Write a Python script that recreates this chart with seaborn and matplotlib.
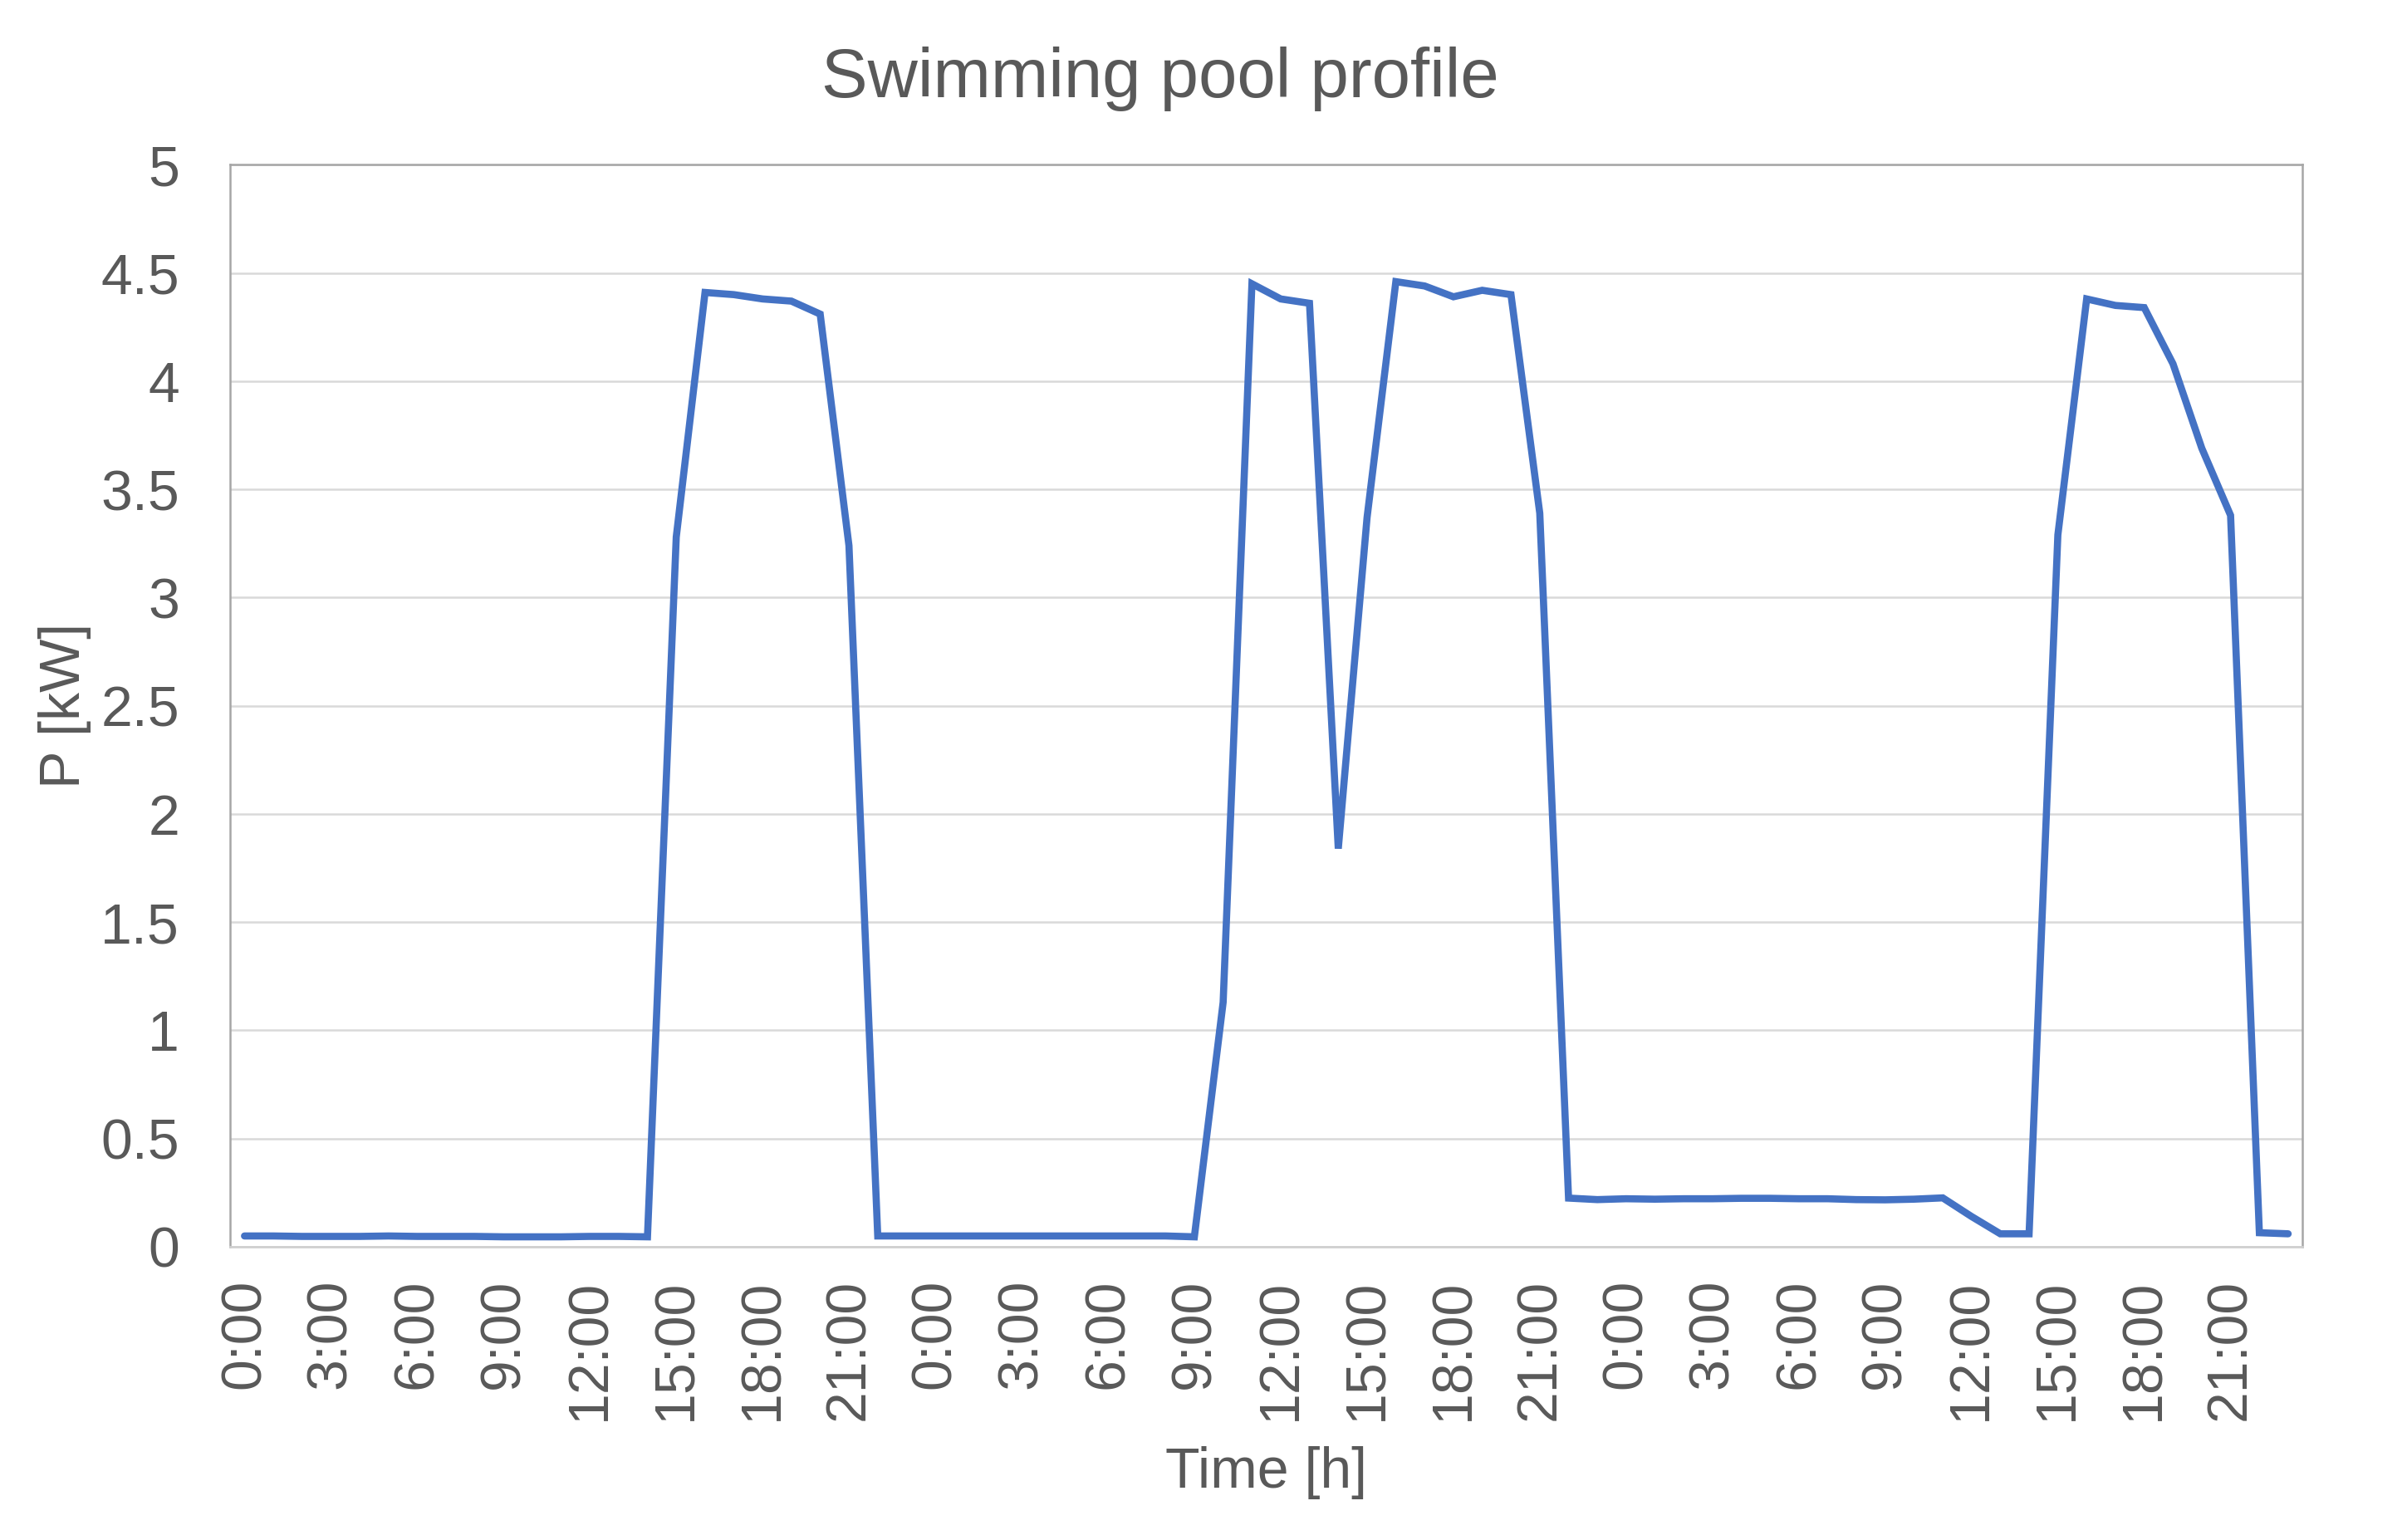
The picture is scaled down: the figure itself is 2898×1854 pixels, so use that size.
import matplotlib
matplotlib.use("Agg")
import matplotlib.pyplot as plt
import seaborn as sns
import pandas as pd

# ---- data ----
hours_of_day = [f"{h}:00" for h in range(24)]
time_labels = hours_of_day * 3

day1 = [0.05, 0.05, 0.048, 0.048, 0.048, 0.05, 0.048, 0.048, 0.048, 0.046, 0.046, 0.046, 0.048, 0.048,
        0.046, 3.28, 4.41, 4.40, 4.38, 4.37, 4.31, 3.24, 0.05, 0.05]
day2 = [0.05, 0.05, 0.05, 0.05, 0.05, 0.05, 0.05, 0.05, 0.05, 0.046,
        1.13, 4.45, 4.38, 4.36, 1.84, 3.37, 4.46, 4.44, 4.39, 4.42, 4.40, 3.39, 0.225, 0.218]
day3 = [0.222, 0.22, 0.222, 0.222, 0.224, 0.224, 0.222, 0.222, 0.218, 0.217, 0.22, 0.226,
        0.14, 0.06, 0.06, 3.29, 4.38, 4.35, 4.34, 4.08, 3.69, 3.38, 0.065, 0.06]
power_kw = day1 + day2 + day3

title = "Swimming pool profile"
x_label = "Time [h]"
y_label = "P [kW]"
y_ticks = [0, 0.5, 1, 1.5, 2, 2.5, 3, 3.5, 4, 4.5, 5]
y_tick_labels = ["0", "0.5", "1", "1.5", "2", "2.5", "3", "3.5", "4", "4.5", "5"]

df = pd.DataFrame({"idx": list(range(len(power_kw))), "P": power_kw, "label": time_labels})

# ---- style ----
sns.set_theme(style="white")
plt.rcParams['font.family'] = ['Liberation Sans', 'DejaVu Sans']
text_color = "#595959"

fig = plt.figure(figsize=(14.49, 9.27), dpi=200)
ax = fig.add_axes([0.0956, 0.1904, 0.861, 0.7026])

sns.lineplot(data=df, x="idx", y="P", ax=ax, color="#4472C4", linewidth=3.1,
             solid_joinstyle="miter", solid_capstyle="round")

ax.set_xlim(-0.5, len(power_kw) - 0.5)
ax.set_ylim(0, 5)
ax.set_yticks(y_ticks)
ax.set_yticklabels(y_tick_labels)
tick_pos = list(range(0, len(power_kw), 3))
ax.set_xticks(tick_pos)
ax.set_xticklabels([time_labels[i] for i in tick_pos], rotation=90)

ax.yaxis.grid(True, color="#D9D9D9", linewidth=0.9)
ax.xaxis.grid(False)
ax.set_axisbelow(True)

for side in ["left", "top", "right"]:
    ax.spines[side].set_color("#A6A6A6")
    ax.spines[side].set_linewidth(0.9)
ax.spines["bottom"].set_color("#D0D0D0")
ax.spines["bottom"].set_linewidth(1.0)

ax.tick_params(axis="y", length=0, pad=22, labelsize=24.5, labelcolor=text_color)
ax.tick_params(axis="x", length=0, pad=14, labelsize=24.5, labelcolor=text_color)

ax.set_xlabel(x_label, fontsize=24.5, color=text_color, labelpad=11)
ax.set_ylabel(y_label, fontsize=24.5, color=text_color, labelpad=4)
fig.text(0.482, 0.949, title, fontsize=30, color=text_color, ha="center", va="center")

fig.savefig("out.png", dpi=200, facecolor="white")
